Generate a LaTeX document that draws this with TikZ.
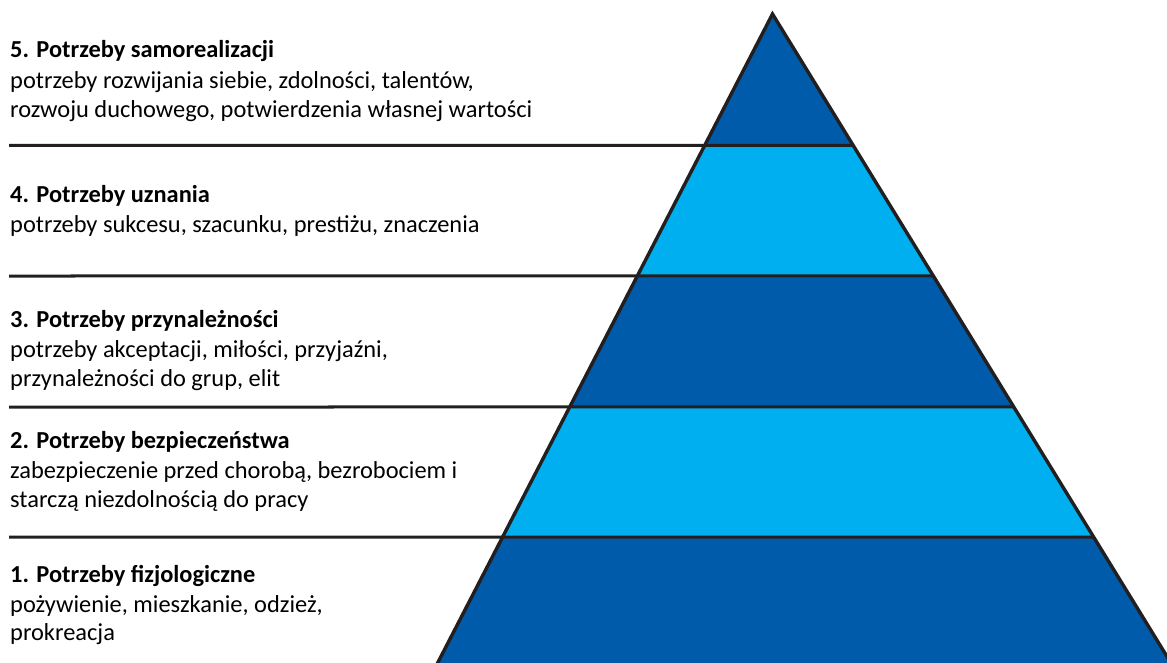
\documentclass[tikz,border=0pt]{standalone}
\usepackage{fontspec}
\setmainfont{Carlito}
\usetikzlibrary{calc}
\definecolor{darkband}{RGB}{0,92,170}
\definecolor{lightband}{RGB}{0,175,239}
\definecolor{rule}{RGB}{35,31,32}
\tikzset{
  title/.style={anchor=base west, inner sep=0pt, font=\fontsize{24.4}{29.5}\selectfont\bfseries, text=black},
  desc/.style={anchor=base west, inner sep=0pt, font=\fontsize{24.4}{29.5}\selectfont, text=black},
  sep/.style={draw=rule, line width=3pt},
  edge/.style={draw=rule, line width=3.4pt, line join=miter}
}
\begin{document}
\begin{tikzpicture}[x=1pt,y=-1pt]
\useasboundingbox (0,0) rectangle (1167,663);
\begin{scope}
\clip (0,0) rectangle (1167,663);
% pyramid corners
\coordinate (A) at (772.5,14);
\coordinate (L) at (418.5,700);
\coordinate (R) at (1193.7,700);
% band boundaries (fraction along edge from apex: (y-14)/686)
\foreach \n/\y in {1/145.5,2/276,3/407,4/537}{
  \coordinate (l\n) at ($(A)!{(\y-14)/686}!(L)$);
  \coordinate (r\n) at ($(A)!{(\y-14)/686}!(R)$);
}
\fill[darkband] (A) -- (l1) -- (r1) -- cycle;
\fill[lightband] (l1) -- (l2) -- (r2) -- (r1) -- cycle;
\fill[darkband] (l2) -- (l3) -- (r3) -- (r2) -- cycle;
\fill[lightband] (l3) -- (l4) -- (r4) -- (r3) -- cycle;
\fill[darkband] (l4) -- (L) -- (R) -- (r4) -- cycle;
% separators
\foreach \n/\y in {1/145.5,2/276,3/407,4/537}{
  \coordinate (s\n) at (9,\y);
  \draw[sep] (s\n) -- (r\n);
}
\draw[edge] (L) -- (A) -- (R);
\end{scope}
% texts
\node[title] (t5) at (10,58) {5. Potrzeby samorealizacji};
\node[desc] (d5a) at (10,88.5) {potrzeby rozwijania siebie, zdolności, talentów,};
\node[desc] (d5b) at (10,117.5) {rozwoju duchowego, potwierdzenia własnej wartości};
\node[title] (t4) at (10,203) {4. Potrzeby uznania};
\node[desc] (d4a) at (10,233) {potrzeby sukcesu, szacunku, prestiżu, znaczenia};
\node[title] (t3) at (10,327) {3. Potrzeby przynależności};
\node[desc] (d3a) at (10,357) {potrzeby akceptacji, miłości, przyjaźni,};
\node[desc] (d3b) at (10,386) {przynależności do grup, elit};
\node[title] (t2) at (10,448) {2. Potrzeby bezpieczeństwa};
\node[desc] (d2a) at (10,478) {zabezpieczenie przed chorobą, bezrobociem i};
\node[desc] (d2b) at (10,507.5) {starczą niezdolnością do pracy};
\node[title] (t1) at (10,582) {1. Potrzeby fizjologiczne};
\node[desc] (d1a) at (10,612) {pożywienie, mieszkanie, odzież,};
\node[desc] (d1b) at (10,640.5) {prokreacja};
\end{tikzpicture}
\end{document}
